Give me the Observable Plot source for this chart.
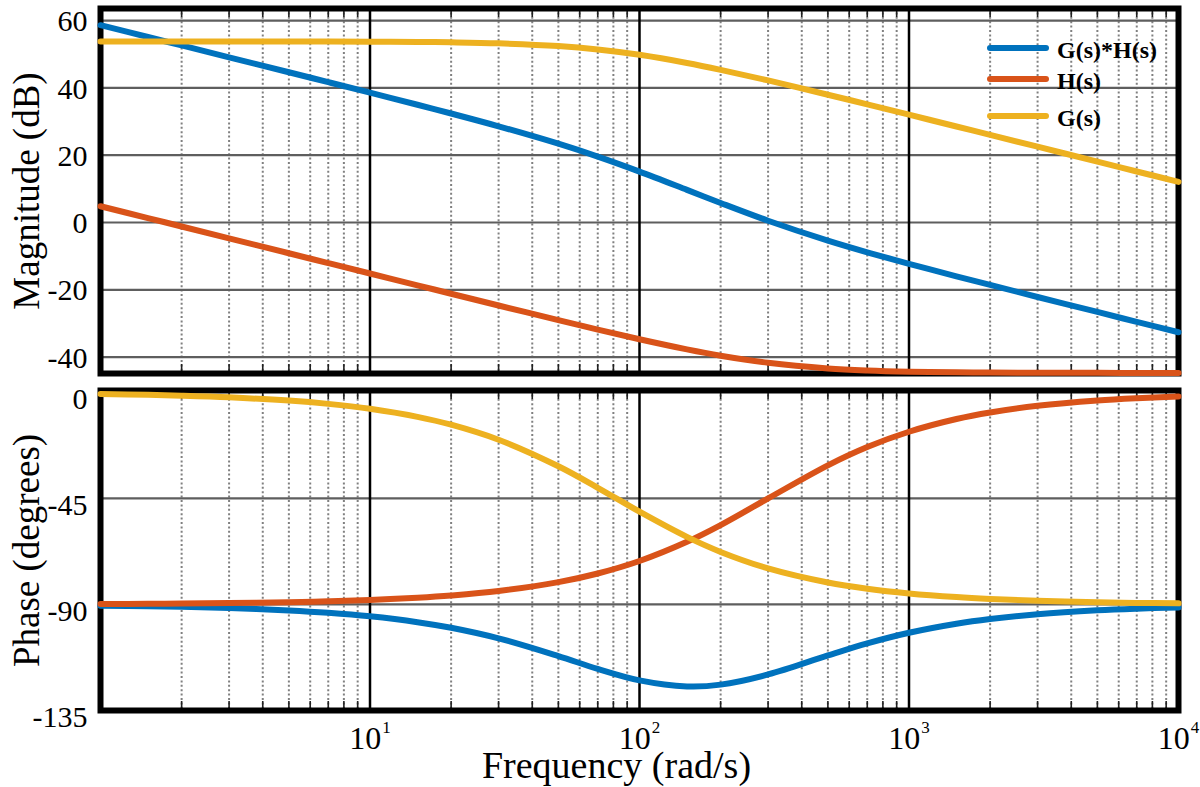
<!DOCTYPE html>
<html><head><meta charset="utf-8">
<script src="https://cdn.jsdelivr.net/npm/d3@7"></script>
<script src="https://cdn.jsdelivr.net/npm/@observablehq/plot@0.6"></script>
<style>
body{margin:0;background:#fff;}
#chart{position:relative;width:1200px;height:787px;font-family:"Liberation Serif","Times New Roman",serif;}
#chart > svg, #chart > figure{position:absolute;left:0;margin:0;}
#chart text{font-family:"Liberation Serif","Times New Roman",serif !important;}
</style></head><body><div id="chart"></div>
<script>
// ---- data ----
const freq = [1,1.5,2,3,5,7,10,15,20,30,50,70,100,150,200,300,500,700,1000,1500,2000,3000,5000,7000,10000];
const magGH = [58.64,55.12,52.62,49.09,44.65,41.71,38.59,34.99,32.39,28.59,23.41,19.59,15.14,9.71,5.80,0.53,-5.38,-8.85,-12.28,-15.99,-18.55,-22.13,-26.58,-29.52,-32.62];
const magH = [4.84,1.32,-1.18,-4.70,-9.13,-12.06,-15.15,-18.67,-21.16,-24.66,-29.02,-31.83,-34.70,-37.71,-39.58,-41.69,-43.36,-43.97,-44.33,-44.53,-44.60,-44.66,-44.68,-44.69,-44.70];
const magG = [53.80,53.80,53.80,53.79,53.78,53.77,53.74,53.66,53.55,53.25,52.43,51.42,49.84,47.42,45.38,42.22,37.98,35.12,32.05,28.54,26.05,22.53,18.10,15.17,12.08];
const phaseGH = [-90.51,-90.76,-91.02,-91.53,-92.54,-93.54,-95.04,-97.51,-99.90,-104.39,-111.91,-117.35,-122.21,-124.77,-124.02,-119.71,-111.65,-106.52,-102.01,-98.18,-96.18,-94.14,-92.49,-91.78,-91.25];
const phaseH = [-89.81,-89.71,-89.62,-89.43,-89.05,-88.66,-88.09,-87.14,-86.19,-84.29,-80.54,-76.87,-71.57,-63.43,-56.31,-45.00,-30.96,-23.20,-16.70,-11.31,-8.53,-5.71,-3.43,-2.45,-1.72];
const phaseG = [-0.70,-1.05,-1.40,-2.10,-3.49,-4.88,-6.95,-10.37,-13.71,-20.10,-31.37,-40.48,-50.64,-61.34,-67.71,-74.71,-80.69,-83.32,-85.31,-86.87,-87.65,-88.43,-89.06,-89.33,-89.53];
const seriesNames = ["G(s)*H(s)", "H(s)", "G(s)"];
const seriesColors = ["#0072BD", "#D95319", "#EDB120"];
const magTicks = [60, 40, 20, 0, -20, -40];
const phaseTicks = [0, -45, -90, -135];
const phaseGrid = [-45, -90];
const decadeTicks = [10, 100, 1000, 10000];
const minorTicks = [2,3,4,5,6,7,8,9,20,30,40,50,60,70,80,90,200,300,400,500,600,700,800,900,2000,3000,4000,5000,6000,7000,8000,9000];
const magLabel = "Magnitude (dB)";
const phaseLabel = "Phase (degrees)";
const freqLabel = "Frequency (rad/s)";

// ---- tables ----
const magData = seriesNames.flatMap((s, i) => freq.map((f, j) => ({f, v: [magGH, magH, magG][i][j], s})));
const phaseData = seriesNames.flatMap((s, i) => freq.map((f, j) => ({f, v: [phaseGH, phaseH, phaseG][i][j], s})));

const font = '"Liberation Serif","Times New Roman",serif';
const sup = {"1": "\u00B9", "2": "\u00B2", "3": "\u00B3", "4": "\u2074"};

function panel({height, marginTop, marginBottom, yDomain, yTicks, gridTicks, data, yLabel, tickDy, xAxis}) {
  const plotH = height - marginTop - marginBottom;
  const marks = [
    Plot.gridX(minorTicks, {stroke: "#808080", strokeOpacity: 1, strokeWidth: 2, strokeDasharray: "2,2.4"}),
    Plot.gridY(gridTicks, {stroke: "#5e5e5e", strokeOpacity: 1, strokeWidth: 2.2}),
    Plot.gridX(decadeTicks, {stroke: "#000", strokeOpacity: 1, strokeWidth: 2.5}),
    Plot.ruleX(minorTicks, {stroke: "#222", strokeWidth: 1.6, insetBottom: plotH - 9}),
    Plot.ruleX(minorTicks, {stroke: "#222", strokeWidth: 1.6, insetTop: plotH - 9}),
    Plot.axisY(yTicks, {anchor: "left", tickSize: 0, tickPadding: 13, fontSize: 30, fontFamily: font, tickFormat: d => String(d), label: null, dy: tickDy, fill: "#000"}),
    Plot.frame({stroke: "#000", strokeWidth: 6}),
    Plot.line(data, {x: "f", y: "v", stroke: "s", z: "s", strokeWidth: 6, curve: "catmull-rom", strokeLinecap: "round", strokeLinejoin: "round"}),
    Plot.text([yLabel], {text: d => d, frameAnchor: "left", textAnchor: "middle", rotate: -90, dx: -73, fontSize: 37, fontFamily: font, fill: "#000"})
  ];
  if (xAxis) {
    marks.push(Plot.axisX(decadeTicks, {anchor: "bottom", tickSize: 0, tickPadding: 16, fontSize: 32, fontFamily: font, fill: "#000",
      tickFormat: d => "10" + sup[String(Math.round(Math.log10(d)))], label: null}));
    marks.push(Plot.text([freqLabel], {text: d => d, frameAnchor: "bottom", textAnchor: "middle", lineAnchor: "top", dx: -23, dy: 41, fontSize: 38, fontFamily: font, fill: "#000"}));
  }
  return Plot.plot({
    width: 1200, height, marginLeft: 100, marginRight: 22, marginTop, marginBottom,
    style: {fontFamily: font, background: "transparent", overflow: "visible", color: "#000"},
    x: {type: "log", domain: [1, 10000], axis: null},
    y: {domain: yDomain, axis: null},
    color: {domain: seriesNames, range: seriesColors},
    marks
  });
}

const chart = document.getElementById("chart");
const topPanel = panel({height: 380, marginTop: 8, marginBottom: 7, yDomain: [-44.87, 63.6], yTicks: magTicks, gridTicks: magTicks, data: magData, yLabel: magLabel, tickDy: 1, xAxis: false});
topPanel.style.top = "0px";
chart.appendChild(topPanel);
const bottomPanel = panel({height: 407, marginTop: 10, marginBottom: 77, yDomain: [-135, 0.8], yTicks: phaseTicks, gridTicks: phaseGrid, data: phaseData, yLabel: phaseLabel, tickDy: 7, xAxis: true});
bottomPanel.style.top = "380px";
chart.appendChild(bottomPanel);

// superscript exponents on x tick labels
const inv = {"\u00B9": "1", "\u00B2": "2", "\u00B3": "3", "\u2074": "4"};
d3.select(bottomPanel).selectAll('[aria-label="x-axis tick label"] text').each(function() {
  const t = this.textContent;
  const m = t.match(/^10(.)$/);
  if (!m || !inv[m[1]]) return;
  const sel = d3.select(this);
  sel.text("10");
  sel.append("tspan").attr("font-size", 17).attr("dy", "-0.95em").attr("dx", 1).text(inv[m[1]]);
});

// legend (inside the top panel)
const leg = d3.select(chart).append("svg")
  .attr("width", 1200).attr("height", 380).style("top", "0px").style("pointer-events", "none");
const legY = [48, 79, 116];
seriesNames.forEach((name, i) => {
  leg.append("line").attr("x1", 990).attr("x2", 1046).attr("y1", legY[i]).attr("y2", legY[i])
    .attr("stroke", seriesColors[i]).attr("stroke-width", 6).attr("stroke-linecap", "round");
  leg.append("text").attr("x", 1057).attr("y", legY[i] + 10)
    .attr("font-family", font).attr("font-weight", "bold").attr("font-size", 24).attr("fill", "#000").text(name);
});
</script></body></html>
